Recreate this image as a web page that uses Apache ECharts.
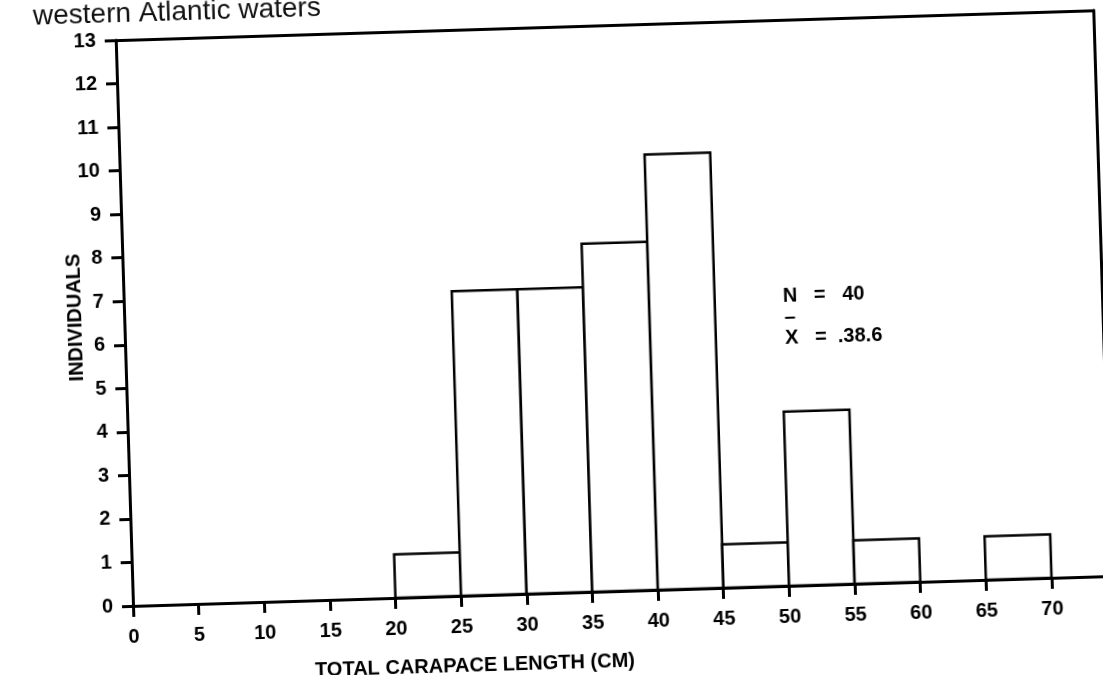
<!DOCTYPE html>
<html>
<head>
<meta charset="utf-8">
<script src="https://cdn.jsdelivr.net/npm/echarts@6/dist/echarts.min.js"></script>
<style>
html,body{margin:0;padding:0;background:#fff;overflow:hidden;width:1103px;height:675px;}
#chart{position:absolute;left:-40px;top:-40px;width:1183px;height:755px;transform:rotate(-1.75deg);transform-origin:50% 50%;}
</style>
</head>
<body>
<div id="chart"></div>
<script>
// Data
const binStarts = [20, 25, 30, 35, 40, 45, 50, 55, 60, 65];
const binWidth = 5;
const counts = [1, 7, 7, 8, 10, 1, 4, 1, 0, 1];
const xTickLabels = [0, 5, 10, 15, 20, 25, 30, 35, 40, 45, 50, 55, 60, 65, 70];
const yTickLabels = [0, 1, 2, 3, 4, 5, 6, 7, 8, 9, 10, 11, 12, 13];
const xTitle = 'TOTAL CARAPACE LENGTH (CM)';
const yTitle = 'INDIVIDUALS';
const topText = 'western Atlantic waters';
const noteN = 'N   =   40';
const noteX = 'X   =  .38.6';

const FONT = '"Liberation Sans", Arial, Helvetica, sans-serif';
const chart = echarts.init(document.getElementById('chart'), null, {renderer: 'canvas'});

const data = binStarts.map((s, i) => [s, s + binWidth, counts[i]]).filter(d => d[2] > 0);

const option = {
  animation: false,
  backgroundColor: '#fff',
  grid: {left: 165, right: 40, top: 67, bottom: 122, containLabel: false},
  xAxis: [{
    type: 'value', min: 0, max: 74.5, interval: 5,
    axisLine: {show: true, onZero: false, lineStyle: {color: '#000', width: 3}},
    axisTick: {show: true, length: 11, lineStyle: {color: '#000', width: 3}},
    axisLabel: {
      margin: 21, color: '#000', fontFamily: FONT, fontSize: 20, fontWeight: 'bold',
      formatter: v => (xTickLabels.indexOf(v) >= 0 ? String(v) : '')
    },
    splitLine: {show: false}
  }, {
    type: 'value', position: 'top', min: 0, max: 74.5,
    axisLine: {show: true, onZero: false, lineStyle: {color: '#000', width: 3}},
    axisTick: {show: false}, axisLabel: {show: false}, splitLine: {show: false}
  }],
  yAxis: [{
    type: 'value', min: 0, max: 13, interval: 1,
    axisLine: {show: true, onZero: false, lineStyle: {color: '#000', width: 3}},
    axisTick: {show: true, length: 11, lineStyle: {color: '#000', width: 3}},
    axisLabel: {
      margin: 20, color: '#000', fontFamily: FONT, fontSize: 20, fontWeight: 'bold',
      formatter: v => (yTickLabels.indexOf(v) >= 0 ? String(v) : '')
    },
    splitLine: {show: false}
  }, {
    type: 'value', position: 'right', min: 0, max: 13,
    axisLine: {show: true, onZero: false, lineStyle: {color: '#000', width: 3}},
    axisTick: {show: false}, axisLabel: {show: false}, splitLine: {show: false}
  }],
  series: [{
    type: 'custom',
    xAxisIndex: 0, yAxisIndex: 0,
    data: data,
    encode: {x: [0, 1], y: 2},
    renderItem: function (params, api) {
      const p0 = api.coord([api.value(0), api.value(2)]);
      const p1 = api.coord([api.value(1), 0]);
      return {
        type: 'rect',
        shape: {x: p0[0], y: p0[1], width: p1[0] - p0[0], height: p1[1] - p0[1]},
        style: {fill: '#fff', stroke: '#000', lineWidth: 2.5}
      };
    }
  }],
  graphic: [
    {type: 'text', x: 83, y: 55, style: {text: topText, fill: '#111', font: '28px ' + FONT, textAlign: 'left', textVerticalAlign: 'bottom'}},
    {type: 'text', x: 505, y: 703, style: {text: xTitle, fill: '#000', font: 'bold 20px ' + FONT, textAlign: 'center', textVerticalAlign: 'middle'}},
    {type: 'text', x: 116, y: 343, rotation: Math.PI / 2, style: {text: yTitle, fill: '#000', font: 'bold 20px ' + FONT, textAlign: 'center', textVerticalAlign: 'middle'}},
    {type: 'text', x: 824, y: 343, style: {text: noteN, fill: '#000', font: 'bold 20px ' + FONT, textAlign: 'left', textVerticalAlign: 'middle'}},
    {type: 'text', x: 825, y: 364, style: {text: '–', fill: '#000', font: 'bold 20px ' + FONT, textAlign: 'left', textVerticalAlign: 'middle'}},
    {type: 'text', x: 825, y: 385, style: {text: noteX, fill: '#000', font: 'bold 20px ' + FONT, textAlign: 'left', textVerticalAlign: 'middle'}}
  ]
};
chart.setOption(option);
</script>
</body>
</html>
